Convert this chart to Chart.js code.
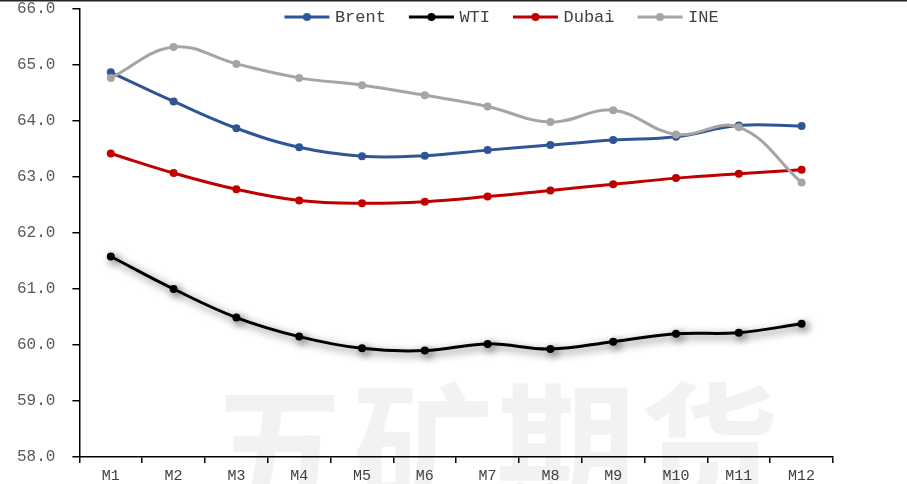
<!DOCTYPE html>
<html>
<head>
<meta charset="utf-8">
<script src="https://cdn.jsdelivr.net/npm/chart.js@4/dist/chart.umd.min.js"></script>
<style>
  html, body { margin: 0; padding: 0; background: #fff; }
  canvas { display: block; }
</style>
</head>
<body>
<canvas id="c" width="907" height="484"></canvas>
<script>
// Forward curve by contract month
const months = ['M1','M2','M3','M4','M5','M6','M7','M8','M9','M10','M11','M12'];
const brent = [64.87, 64.35, 63.87, 63.53, 63.37, 63.38, 63.48, 63.57, 63.66, 63.72, 63.92, 63.91];
const wti   = [61.58, 61.00, 60.49, 60.15, 59.94, 59.90, 60.02, 59.93, 60.06, 60.20, 60.22, 60.38];
const dubai = [63.42, 63.07, 62.78, 62.58, 62.53, 62.56, 62.65, 62.76, 62.87, 62.98, 63.06, 63.13];
const ine   = [64.77, 65.32, 65.02, 64.77, 64.64, 64.46, 64.26, 63.98, 64.19, 63.76, 63.89, 62.90];
const yTicks = { min: 58, max: 66, step: 1 };

const seriesNames  = ['Brent', 'WTI', 'Dubai', 'INE'];
const seriesColors = ['#2F5597', '#000000', '#C00000', '#A5A5A5'];
const seriesData   = [brent, wti, dubai, ine];
const drawOrder    = [3, 2, 1, 0];   // INE painted on top

const MONO = '"Liberation Mono", "DejaVu Sans Mono", monospace';

// Line-with-marker swatch for the legend
function legendIcon(color) {
  const cv = document.createElement('canvas');
  cv.width = 52; cv.height = 12;
  const g = cv.getContext('2d');
  g.strokeStyle = color; g.lineWidth = 3;
  g.beginPath(); g.moveTo(4, 6); g.lineTo(49, 6); g.stroke();
  g.fillStyle = color;
  g.beginPath(); g.arc(26.5, 6, 4, 0, Math.PI * 2); g.fill();
  return cv;
}
const icons = seriesColors.map(legendIcon);

// Legend floats over the top of the plot instead of taking layout space
const legendOverlay = {
  id: 'legendOverlay',
  beforeLayout(chart) {
    const lg = chart.legend;
    if (lg && !lg._overlay) {
      const fit = lg.fit;
      lg.fit = function () { fit.call(this); this.height = 0; };
      lg._overlay = true;
    }
  },
  afterLayout(chart) {
    const lg = chart.legend;
    const pad = lg.options.labels.padding;
    const size = lg.options.labels.font.size;
    lg.top = 17 - pad - size / 2;
    lg.bottom = lg.top + 2 * pad + size + 10;
    const d = 502.5 - (lg.left + lg.right) / 2;
    lg.left += d;
    lg.right += d;
  }
};

// Soft drop shadow under the WTI curve
const wtiShadow = {
  id: 'wtiShadow',
  beforeDatasetDraw(chart, args) {
    if (args.index !== 1) return;
    const ctx = chart.ctx;
    ctx.save();
    ctx.shadowColor = 'rgba(0,0,0,0.6)';
    ctx.shadowBlur = 8;
    ctx.shadowOffsetX = 3;
    ctx.shadowOffsetY = 3;
  },
  afterDatasetDraw(chart, args) {
    if (args.index !== 1) return;
    chart.ctx.restore();
  }
};

// Faint brand watermark behind the plot, plus the frame rule along the top
const backdrop = {
  id: 'backdrop',
  beforeDraw(chart) {
    const ctx = chart.ctx;
    ctx.save();
    ctx.font = 'bold 140px "Noto Sans CJK SC"';
    ctx.fillStyle = '#f2f2f2';
    ctx.textBaseline = 'top';
    ctx.textAlign = 'left';
    let x = 210;
    for (const ch of '五矿期货') {
      ctx.fillText(ch, x, 378);
      x += 143;
    }
    ctx.restore();
  },
  afterDraw(chart) {
    const ctx = chart.ctx;
    ctx.save();
    ctx.fillStyle = '#262626';
    ctx.fillRect(0, 0, chart.width, 1.5);
    ctx.restore();
  }
};

new Chart(document.getElementById('c'), {
  type: 'line',
  data: {
    labels: months,
    datasets: seriesData.map((d, i) => ({
      label: seriesNames[i],
      data: d,
      borderColor: seriesColors[i],
      backgroundColor: seriesColors[i],
      borderWidth: 3,
      pointRadius: 4,
      pointHoverRadius: 4,
      pointBorderWidth: 0,
      tension: 0.4,
      order: drawOrder[i],
      fill: false
    }))
  },
  options: {
    responsive: false,
    animation: false,
    layout: { padding: { top: 0, right: 74, left: 0, bottom: -5 } },
    plugins: {
      tooltip: { enabled: false },
      legend: {
        position: 'top',
        align: 'center',
        labels: {
          usePointStyle: true,
          pointStyleWidth: 40,
          boxHeight: 12,
          padding: 25,
          color: '#404040',
          font: { family: MONO, size: 17 },
          generateLabels(chart) {
            const items = Chart.defaults.plugins.legend.labels.generateLabels(chart);
            items.forEach(it => { it.pointStyle = icons[it.datasetIndex]; });
            return items.sort((a, b) => a.datasetIndex - b.datasetIndex);
          }
        }
      }
    },
    scales: {
      x: {
        offset: true,
        grid: { display: true, offset: true, drawOnChartArea: false, drawTicks: true, tickLength: 6, color: '#000', lineWidth: 1.5 },
        border: { display: true, color: '#000', width: 1.5 },
        ticks: {
          color: '#404040',
          padding: 4,
          maxRotation: 0,
          font: { family: '"Liberation Sans Narrow", ' + MONO, size: 15 }
        }
      },
      y: {
        min: yTicks.min,
        max: yTicks.max,
        grid: { display: true, drawOnChartArea: false, drawTicks: true, tickLength: 7, color: '#000', lineWidth: 1.5 },
        border: { display: true, color: '#000', width: 1.5 },
        ticks: {
          stepSize: yTicks.step,
          color: '#595959',
          padding: 17,
          font: { family: MONO, size: 16 },
          callback: v => v.toFixed(1)
        },
        // keep the top value flush with the upper edge of the plot
        afterFit(scale) {
          scale.paddingTop = 9;
          scale.paddingBottom = 9;
        }
      }
    }
  },
  plugins: [backdrop, legendOverlay, wtiShadow]
});
</script>
</body>
</html>
